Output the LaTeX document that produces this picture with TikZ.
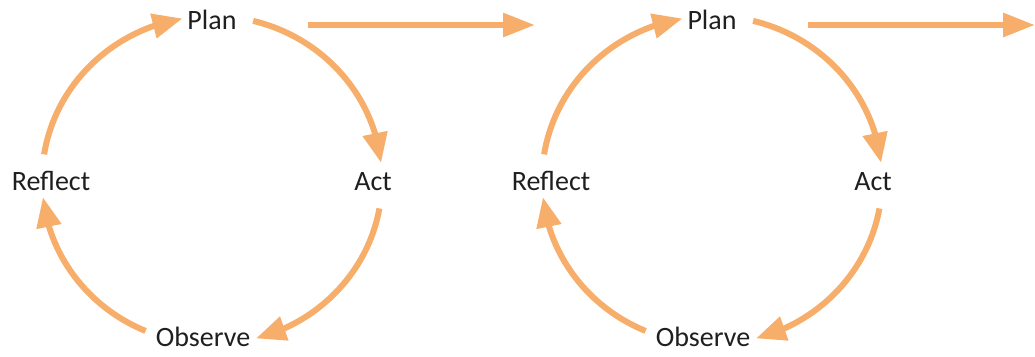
\documentclass[tikz,border=0pt]{standalone}
\usepackage{fontspec}
\setmainfont{Carlito}
\usetikzlibrary{arrows.meta,bending}
\definecolor{cycorange}{RGB}{246,174,106}
\tikzset{
  label/.style={font=\fontsize{28}{32}\selectfont, text=black!88, inner sep=0pt, anchor=center},
  cyc/.style={draw=cycorange, line width=6pt, -{Triangle[length=30pt,width=24pt,flex]}},
  next/.style={draw=cycorange, line width=6pt, -{Triangle[length=32pt,width=23pt]}}
}
% y points down here, so angles are measured clockwise from the right
\newcommand{\cyclediagram}[1]{%
  \begin{scope}[xshift=#1]
    \coordinate (c) at (212,180);
    \node[label] (plan) at (212,20) {Plan};
    \node[label] (act) at (373,182) {Act};
    \node[label] (obs) at (203,337) {Observe};
    \node[label] (refl) at (51,181) {Reflect};
    % four quarter arcs of the cycle
    \draw[cyc] ([shift={(-171:170 and 164)}]c) arc[start angle=-171, end angle=-100, x radius=170, y radius=164];
    \draw[cyc] ([shift={(-76:170 and 164)}]c) arc[start angle=-76, end angle=-6, x radius=170, y radius=164];
    \draw[cyc] ([shift={(10:170 and 164)}]c) arc[start angle=10, end angle=75, x radius=170, y radius=164];
    \draw[cyc] ([shift={(113:170 and 164)}]c) arc[start angle=113, end angle=174, x radius=170, y radius=164];
    % arrow to the next cycle
    \coordinate (nextA) at (308,25);
    \coordinate (nextB) at (535,25);
    \draw[next] (nextA) -- (nextB);
  \end{scope}}
\begin{document}
\begin{tikzpicture}[x=1pt,y=-1pt]
  \useasboundingbox (0,0) rectangle (1035,356);
  \cyclediagram{0pt}
  \cyclediagram{500pt}
\end{tikzpicture}
\end{document}
